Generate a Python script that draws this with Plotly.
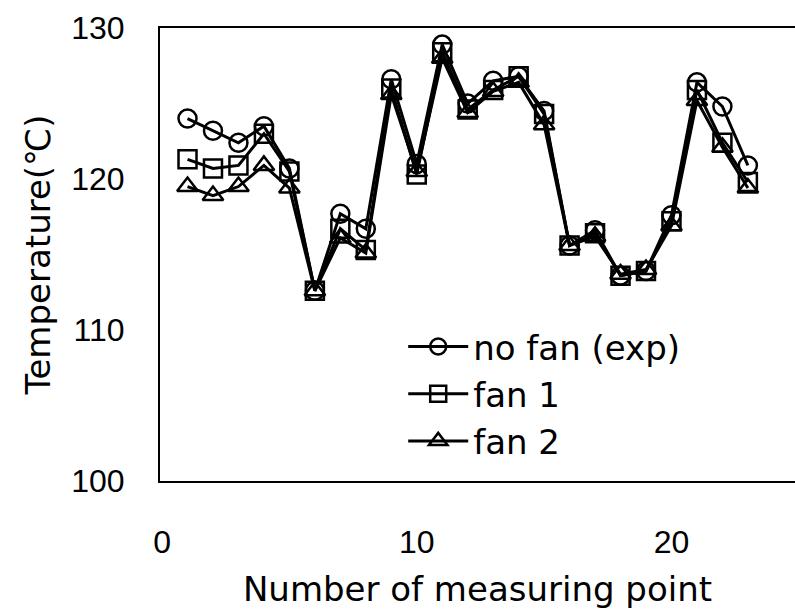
import plotly.graph_objects as go

points = list(range(1, 24))
no_fan = [124.0, 123.2, 122.4, 123.5, 120.7, 112.6, 117.7, 116.7, 126.6, 121.0, 128.9, 125.0,
          126.5, 126.8, 124.5, 115.6, 116.6, 113.6, 113.9, 117.6, 126.4, 124.8, 120.9]
fan1 = [121.3, 120.7, 120.9, 123.0, 120.5, 112.6, 116.7, 115.3, 126.0, 120.3, 128.4, 124.6,
        125.9, 126.8, 124.3, 115.6, 116.4, 113.6, 113.9, 117.2, 125.9, 122.4, 119.8]
fan2 = [119.5, 118.9, 119.5, 120.9, 119.4, 112.6, 116.1, 115.1, 125.6, 120.5, 128.0, 124.4,
        125.8, 126.4, 123.6, 115.6, 116.2, 113.7, 114.0, 116.9, 125.2, 122.1, 119.4]

series = [
    ("no fan (exp)", no_fan, "circle-open"),
    ("fan 1", fan1, "square-open"),
    ("fan 2", fan2, "triangle-up-open"),
]

NUM_FONT = "Liberation Sans, Arial, sans-serif"
TXT_FONT = "DejaVu Sans, sans-serif"

fig = go.Figure()
for name, vals, sym in series:
    fig.add_trace(go.Scatter(
        x=points, y=vals, name=name, mode="lines+markers",
        line=dict(color="black", width=3),
        marker=dict(symbol=sym, size=18, color="black", line=dict(width=2.5, color="black")),
    ))

fig.update_layout(
    width=795, height=609,
    margin=dict(l=160, r=0, t=28, b=128),
    paper_bgcolor="white", plot_bgcolor="white",
    font=dict(family=NUM_FONT, size=32, color="black"),
    showlegend=True,
    legend=dict(x=0.383, y=0.36, xanchor="left", yanchor="top",
                bgcolor="rgba(0,0,0,0)", font=dict(size=34, family=TXT_FONT),
                tracegroupgap=0, itemwidth=60),
    xaxis=dict(range=[-0.08, 24.85], tickvals=[0, 10, 20], showgrid=False, zeroline=False,
               showline=True, linecolor="black", linewidth=2, mirror=True,
               ticks="", ticklabelstandoff=32,
               tickfont=dict(family=NUM_FONT, size=32),
               title=dict(text="Number of measuring point", standoff=22,
                          font=dict(size=34, family=TXT_FONT))),
    yaxis=dict(range=[100, 130], tickvals=[100, 110, 120, 130], showgrid=False, zeroline=False,
               showline=True, linecolor="black", linewidth=2, mirror=False,
               ticks="", ticklabelstandoff=27,
               tickfont=dict(family=NUM_FONT, size=32),
               title=dict(text="Temperature(℃)", standoff=10,
                          font=dict(size=34, family=TXT_FONT))),
)

fig.write_html("out.html")
